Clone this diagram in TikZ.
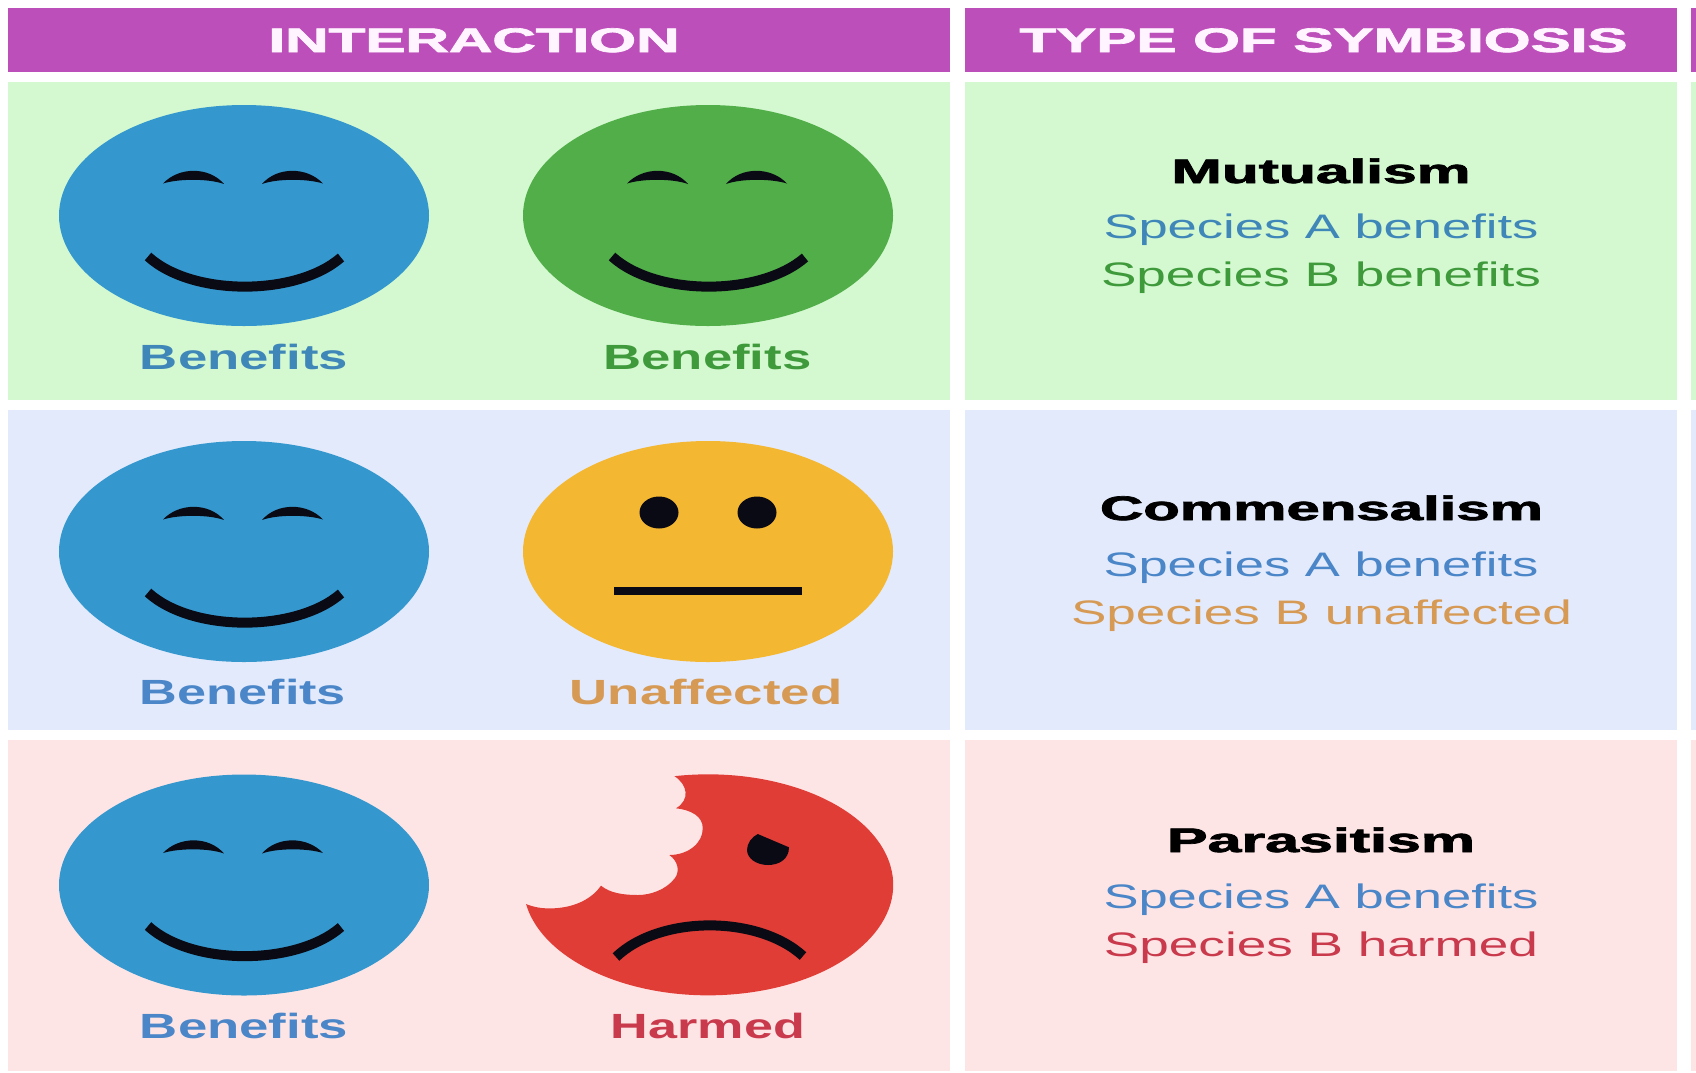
\documentclass[tikz,border=0pt]{standalone}
\usepackage{graphicx}
\usepackage{fontspec}
\setmainfont{Liberation Sans}
\newfontfamily\heavy[BoldFeatures={FakeBold=2}]{Liberation Sans}
\definecolor{hdr}{HTML}{BD4FBA}
\definecolor{rowg}{HTML}{D4F9D0}
\definecolor{rowb}{HTML}{E3EAFB}
\definecolor{rowr}{HTML}{FEE5E5}
\definecolor{fblue}{HTML}{3498CF}
\definecolor{fgreen}{HTML}{51AE49}
\definecolor{fyellow}{HTML}{F4B731}
\definecolor{fred}{HTML}{E03D37}
\definecolor{ink}{HTML}{0A0A14}
\definecolor{tblueg}{HTML}{3F87B8}
\definecolor{tblue}{HTML}{4A86C8}
\definecolor{tgreen}{HTML}{3F9A3C}
\definecolor{torange}{HTML}{D69A55}
\definecolor{tred}{HTML}{C93A4D}
\definecolor{hwhite}{HTML}{FFF4FF}
\tikzset{
  txt/.style={inner sep=0pt,outer sep=0pt,anchor=base},
  mouthline/.style={draw=ink,line width=10pt,line cap=butt},
}
% name, x centre, baseline y, width, colour, font, text
\newcommand{\tx}[7]{\node[txt,text=#5] (#1) at (#2,-#3)
  {\resizebox{#4pt}{\height}{#6#7}};}
\newcommand{\labelfont}{\fontsize{35}{38}\selectfont\bfseries}
\newcommand{\titlefont}{\fontsize{34}{38}\selectfont\heavy\bfseries}
\newcommand{\headfont}{\fontsize{34}{38}\selectfont\heavy\bfseries}
\newcommand{\bodyfont}{\fontsize{34}{38}\selectfont}
\newcommand{\happyface}[3]{%
  \begin{scope}[shift={(#1,-#2)}]
    \fill[#3] (0,0) ellipse [x radius=185,y radius=110.5];
    \fill[ink] (-81,32) .. controls (-65,49) and (-35,49) .. (-20,31.5)
               .. controls (-35,37) and (-65,37) .. (-81,32) -- cycle;
    \fill[ink] (18,31.5) .. controls (33,49) and (63,49) .. (79,32)
               .. controls (63,37) and (33,37) .. (18,31.5) -- cycle;
    \draw[mouthline] (-96,-41) .. controls (-52,-81) and (52,-81) .. (97,-42);
  \end{scope}}
\begin{document}
\begin{tikzpicture}[x=1pt,y=1pt]
\useasboundingbox (0,0) rectangle (1696,-1072);
\fill[white] (0,0) rectangle (1696,-1072);
% headers
\fill[hdr] (8,-8) rectangle (950,-72);
\fill[hdr] (965,-8) rectangle (1677,-72);
\fill[hdr] (1691,-8) rectangle (1696,-72);
% rows
\foreach \xa/\xb in {8/950,965/1677,1691/1696}{
  \fill[rowg] (\xa,-82) rectangle (\xb,-400);
  \fill[rowb] (\xa,-410) rectangle (\xb,-730);
  \fill[rowr] (\xa,-740) rectangle (\xb,-1071);
}
% faces
\happyface{244}{215.5}{fblue}
\happyface{708}{215.5}{fgreen}
\happyface{244}{551.5}{fblue}
\happyface{244}{885}{fblue}
% neutral face
\begin{scope}[shift={(708,-551.5)}]
  \fill[fyellow] (0,0) ellipse [x radius=185,y radius=110.5];
  \fill[ink] (-49,39) ellipse [x radius=19.5,y radius=16];
  \fill[ink] (49,39) ellipse [x radius=19.5,y radius=16];
  \fill[ink] (-94,-35) rectangle (94,-43);
\end{scope}
% harmed face
\begin{scope}[shift={(708,-885)}]
  \fill[fred] (-182,-19) arc [start angle=190,end angle=460.5,x radius=185,y radius=110.5]
    .. controls (-20,100) and (-18,85) .. (-32,76.7)
    .. controls (-16,75) and (-5,68) .. (-5.3,56.7)
    .. controls (-5,42) and (-20,30) .. (-38.7,30)
    .. controls (-30,24) and (-28,14) .. (-33,7)
    .. controls (-42,-5) and (-58,-10) .. (-70,-10)
    .. controls (-85,-10) and (-98,-8) .. (-107,-0.7)
    .. controls (-115,-12) and (-130,-22) .. (-154,-23.3)
    .. controls (-165,-24) and (-175,-22) .. (-182,-19) -- cycle;
  \fill[ink] (49.7,51) -- (81,37.7) .. controls (81,25) and (70,20) .. (60,20)
    .. controls (48,20) and (39,27) .. (39,35)
    .. controls (39,42) and (44,48) .. (49.7,51) -- cycle;
  \draw[mouthline] (-92,-72) .. controls (-48,-30) and (50,-30) .. (95,-71);
\end{scope}
% header text
\tx{h1}{474}{52}{411}{hwhite}{\headfont}{INTERACTION}
\tx{h2}{1323.5}{52}{608}{hwhite}{\headfont}{TYPE OF SYMBIOSIS}
% face labels
\tx{l1a}{244}{369}{208}{tblueg}{\labelfont}{Benefits}
\tx{l1b}{707.5}{369}{208}{tgreen}{\labelfont}{Benefits}
\tx{l2a}{243}{704}{206}{tblue}{\labelfont}{Benefits}
\tx{l2b}{706}{704}{272.6}{torange}{\labelfont}{Unaffected}
\tx{l3a}{244}{1038.5}{208}{tblue}{\labelfont}{Benefits}
\tx{l3b}{708}{1038.5}{194}{tred}{\labelfont}{Harmed}
% type text
\tx{t1}{1321}{183}{299}{black}{\titlefont}{Mutualism}
\tx{t1a}{1321}{238}{435}{tblueg}{\bodyfont}{Species A benefits}
\tx{t1b}{1321}{286}{440}{tgreen}{\bodyfont}{Species B benefits}
\tx{t2}{1321.5}{520}{443}{black}{\titlefont}{Commensalism}
\tx{t2a}{1321}{576}{435}{tblue}{\bodyfont}{Species A benefits}
\tx{t2b}{1321.5}{624}{501}{torange}{\bodyfont}{Species B unaffected}
\tx{t3}{1321}{852}{308}{black}{\titlefont}{Parasitism}
\tx{t3a}{1321}{908}{435}{tblue}{\bodyfont}{Species A benefits}
\tx{t3b}{1321}{956}{434}{tred}{\bodyfont}{Species B harmed}
\end{tikzpicture}
\end{document}
